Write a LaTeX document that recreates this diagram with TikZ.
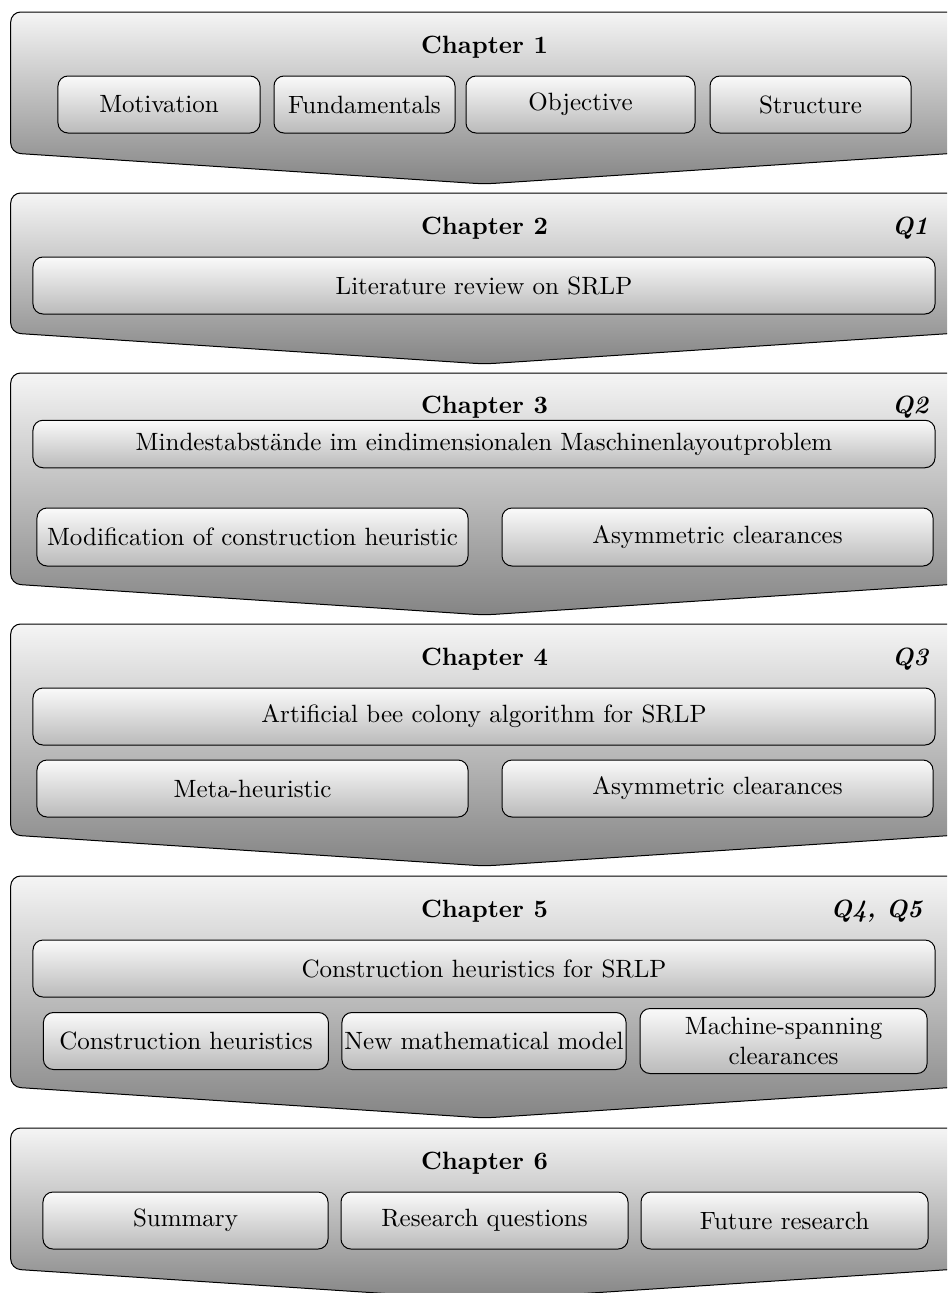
\documentclass[tikz,border=0pt]{standalone}
\usepackage{fontspec}
\usepackage{tikz}
\usetikzlibrary{positioning}
\tikzstyle{chapter} = [draw, rounded corners=4pt, top color=white!96!black, bottom color=black!48]
\tikzstyle{topic} = [draw, rounded corners=4pt, top color=white!98!black, bottom color=black!27, inner sep=1pt, minimum height=22.8pt]
\tikzstyle{chaptitle} = [font=\bfseries]
\tikzstyle{quest} = [font=\bfseries\itshape, anchor=east]

\begin{document}
\begin{tikzpicture}[x=0.4pt, y=-0.4pt]
    \clip (0,0) rectangle (947,1293);
    \draw[chapter] (10.7,12) -- (958,12) -- (958,153) -- (484.5,184) -- (10.7,153) -- cycle;
    \draw[chapter] (10.7,193) -- (958,193) -- (958,333) -- (484.5,364) -- (10.7,333) -- cycle;
    \draw[chapter] (10.7,373) -- (958,373) -- (958,584) -- (484.5,615) -- (10.7,584) -- cycle;
    \draw[chapter] (10.7,624) -- (958,624) -- (958,835) -- (484.5,866) -- (10.7,835) -- cycle;
    \draw[chapter] (10.7,876) -- (958,876) -- (958,1087) -- (484.5,1118) -- (10.7,1087) -- cycle;
    \draw[chapter] (10.7,1128) -- (958,1128) -- (958,1269) -- (484.5,1300) -- (10.7,1269) -- cycle;

    \node[chaptitle] (c1) at (484.5,47) {Chapter 1};
    \node[topic, minimum width=80.8pt] (mot) at (159,104.5) {Motivation};
    \node[topic, minimum width=72.4pt] (fun) at (364.5,104.5) {Fundamentals};
    \node[topic, minimum width=91.6pt] (obj) at (580.5,104.5) {Objective};
    \node[topic, minimum width=80.4pt] (str) at (810.5,104.5) {Structure};

    \node[chaptitle] (c2) at (484.5,228) {Chapter 2};
    \node[quest] (q1) at (937,228) {Q1};
    \node[topic, minimum width=360.8pt] (lit) at (484,285.5) {Literature review on SRLP};

    \node[chaptitle] (c3) at (484.5,407) {Chapter 3};
    \node[quest] (q2) at (937,407) {Q2};
    \node[topic, minimum width=360.8pt, minimum height=19pt] (mind) at (484,444) {Mindestabstände im eindimensionalen Maschinenlayoutproblem};
    \node[topic, minimum width=172.4pt, minimum height=23.2pt] (mod) at (252.5,537) {Modification of construction heuristic};
    \node[topic, minimum width=172.4pt, minimum height=23.2pt, right = 13.2pt of mod] (asy1) {Asymmetric clearances};

    \node[chaptitle] (c4) at (484.5,659) {Chapter 4};
    \node[quest] (q3) at (937,659) {Q3};
    \node[topic, minimum width=360.8pt] (abc) at (484,716.5) {Artificial bee colony algorithm for SRLP};
    \node[topic, minimum width=172.4pt] (meta) at (252.5,788.5) {Meta-heuristic};
    \node[topic, minimum width=172.4pt, right = 13.2pt of meta] (asy2) {Asymmetric clearances};

    \node[chaptitle] (c5) at (484.5,911) {Chapter 5};
    \node[quest] (q45) at (931,911) {Q4, Q5};
    \node[topic, minimum width=360.8pt] (con) at (484,968.5) {Construction heuristics for SRLP};
    \node[topic, minimum width=113.6pt] (model) at (484,1041) {New mathematical model};
    \node[topic, minimum width=114pt, left = 5pt of model] (heur) {Construction heuristics};
    \node[topic, minimum width=114.8pt, minimum height=26pt, align=center, right = 5.2pt of model] (span) {Machine-spanning\\clearances};

    \node[chaptitle] (c6) at (484.5,1163) {Chapter 6};
    \node[topic, minimum width=114.8pt] (res) at (484.5,1220.5) {Research questions};
    \node[topic, minimum width=114pt, left = 4.8pt of res] (sum) {Summary};
    \node[topic, minimum width=114.8pt, right = 4.8pt of res] (fut) {Future research};
\end{tikzpicture}
\end{document}
